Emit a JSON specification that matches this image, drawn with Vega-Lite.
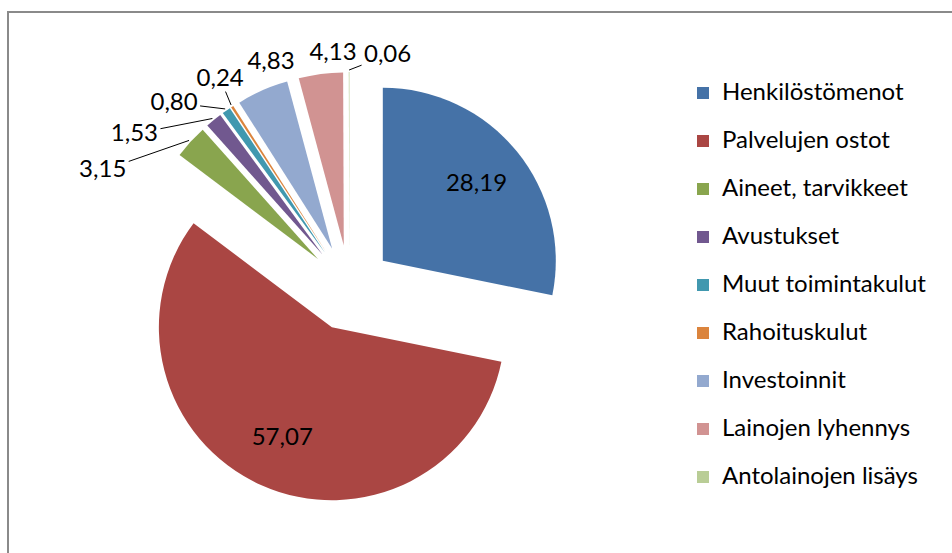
{
  "$schema": "https://vega.github.io/schema/vega-lite/v6.json",
  "width": 960,
  "height": 560,
  "autosize": {"type": "none"},
  "padding": {"left": 8, "top": 12, "right": -16, "bottom": -19},
  "background": "white",
  "config": {
    "view": {"stroke": "#8a8a8a", "strokeWidth": 2},
    "font": "Lato"
  },
  "data": {
    "values": [
      {"cat": "Henkilöstömenot", "v": 28.19},
      {"cat": "Palvelujen ostot", "v": 57.07},
      {"cat": "Aineet, tarvikkeet", "v": 3.15},
      {"cat": "Avustukset", "v": 1.53},
      {"cat": "Muut toimintakulut", "v": 0.80},
      {"cat": "Rahoituskulut", "v": 0.24},
      {"cat": "Investoinnit", "v": 4.83},
      {"cat": "Lainojen lyhennys", "v": 4.13},
      {"cat": "Antolainojen lisäys", "v": 0.06}
    ]
  },
  "transform": [
    {"window": [{"op": "row_number", "as": "idx"}]},
    {"window": [{"op": "sum", "field": "v", "as": "cum"}], "sort": [{"field": "idx"}], "frame": [null, 0]},
    {"joinaggregate": [{"op": "sum", "field": "v", "as": "tot"}]},
    {"calculate": "(datum.cum - datum.v) / datum.tot * 360", "as": "t0"},
    {"calculate": "datum.cum / datum.tot * 360", "as": "t1"},
    {"calculate": "(datum.cum - datum.v / 2) / datum.tot * 360", "as": "mid"},
    {"calculate": "datum.mid * PI / 180", "as": "midR"},
    {"calculate": "43 * sin(datum.midR)", "as": "ex"},
    {"calculate": "43 * cos(datum.midR)", "as": "ey"},
    {"calculate": "datum.v < 10 ? 1 : 0", "as": "out"},
    {"window": [{"op": "row_number", "as": "j"}], "groupby": ["out"], "sort": [{"field": "idx"}]},
    {"calculate": "datum.mid - 11 * datum.j", "as": "w"},
    {"window": [{"op": "min", "field": "w", "as": "wmin"}], "groupby": ["out"], "sort": [{"field": "idx"}], "frame": [0, null]},
    {"calculate": "datum.wmin + 11 * datum.j", "as": "la0"},
    {"calculate": "datum.la0 - datum.mid", "as": "dl"},
    {"joinaggregate": [{"op": "mean", "field": "dl", "as": "mdl"}], "groupby": ["out"]},
    {"calculate": "(datum.la0 - datum.mdl) * PI / 180", "as": "laR"},
    {"calculate": "datum.out == 1 ? 285 * sin(datum.laR) : 164 * sin(datum.midR)", "as": "lx"},
    {"calculate": "datum.out == 1 ? 235 * cos(datum.laR) : 164 * cos(datum.midR)", "as": "ly"},
    {"calculate": "218 * sin(datum.midR)", "as": "sx"},
    {"calculate": "218 * cos(datum.midR)", "as": "sy"},
    {"calculate": "sqrt(pow(datum.sx - datum.lx, 2) + pow(datum.sy - datum.ly, 2))", "as": "dn"},
    {"calculate": "(datum.sx - datum.lx) / datum.dn", "as": "ux"},
    {"calculate": "(datum.sy - datum.ly) / datum.dn", "as": "uy"},
    {"calculate": "min(26 / (abs(datum.ux) + 1e-9), 13 / (abs(datum.uy) + 1e-9))", "as": "tt"},
    {"calculate": "datum.lx + datum.ux * datum.tt", "as": "qx"},
    {"calculate": "datum.ly + datum.uy * datum.tt", "as": "qy"},
    {"calculate": "replace(format(datum.v, '.2f'), '.', ',')", "as": "lab"}
  ],
  "layer": [
    {
      "mark": {"type": "arc", "outerRadius": 173, "innerRadius": 0},
      "encoding": {
        "x": {"field": "ex", "type": "quantitative", "scale": {"domain": [-341.5, 618.5], "nice": false, "zero": false}, "axis": null},
        "y": {"field": "ey", "type": "quantitative", "scale": {"domain": [-284, 276], "nice": false, "zero": false}, "axis": null},
        "theta": {"field": "t0", "type": "quantitative", "stack": null, "scale": {"domain": [0, 360], "range": [0, 6.283185307179586]}},
        "theta2": {"field": "t1"},
        "color": {
          "field": "cat",
          "type": "nominal",
          "sort": null,
          "scale": {
            "domain": ["Henkilöstömenot", "Palvelujen ostot", "Aineet, tarvikkeet", "Avustukset", "Muut toimintakulut", "Rahoituskulut", "Investoinnit", "Lainojen lyhennys", "Antolainojen lisäys"],
            "range": ["#4572A7", "#AA4643", "#89A54E", "#71588F", "#4198AF", "#DB843D", "#93A9CF", "#D19392", "#B9CD96"]
          },
          "legend": {
            "title": null,
            "orient": "none",
            "legendX": 683,
            "legendY": 69,
            "padding": 0,
            "symbolType": "square",
            "symbolSize": 144,
            "symbolStrokeWidth": 0,
            "labelFont": "Lato",
            "labelFontSize": 24,
            "labelColor": "#000000",
            "labelOffset": 7,
            "labelLimit": 400,
            "rowPadding": 24
          }
        }
      }
    },
    {
      "transform": [{"filter": "datum.out == 1 && datum.v < 4"}],
      "mark": {"type": "rule", "color": "#000000", "strokeWidth": 1},
      "encoding": {
        "x": {"field": "sx", "type": "quantitative"},
        "y": {"field": "sy", "type": "quantitative"},
        "x2": {"field": "qx"},
        "y2": {"field": "qy"}
      }
    },
    {
      "mark": {"type": "text", "font": "Lato", "fontSize": 24, "color": "#000000", "align": "center", "baseline": "middle"},
      "encoding": {
        "x": {"field": "lx", "type": "quantitative"},
        "y": {"field": "ly", "type": "quantitative"},
        "text": {"field": "lab", "type": "nominal"}
      }
    }
  ]
}
